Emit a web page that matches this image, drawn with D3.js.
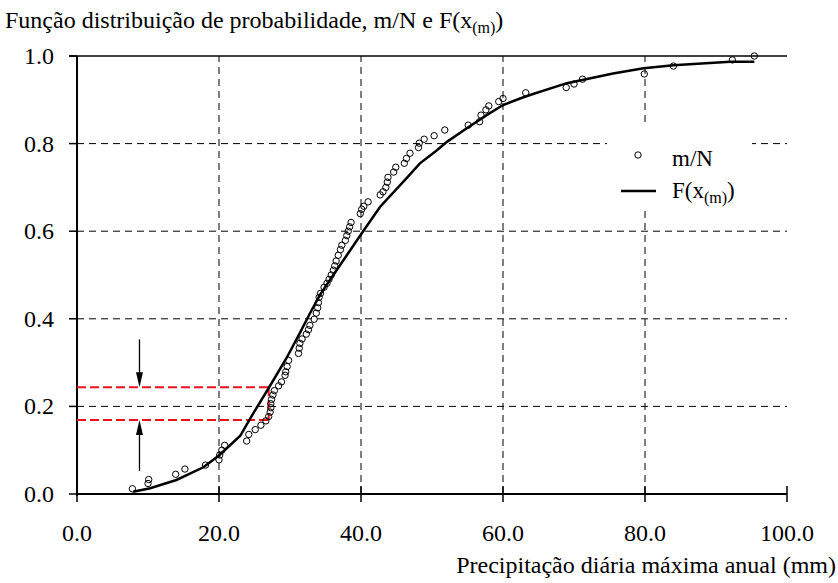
<!DOCTYPE html>
<html>
<head>
<meta charset="utf-8">
<script src="https://cdn.jsdelivr.net/npm/d3@7"></script>
</head>
<body style="margin:0">
<svg id="fig" width="838" height="583" style="font-family: 'Liberation Serif', 'Times New Roman', serif"></svg>
<script>
// observed points m/N (sorted precipitation, mm)
var obsX = [7.8, 10.0, 10.1, 13.9, 15.2, 18.1, 20.0, 20.1, 20.4, 20.8,
  23.9, 24.2, 25.1, 25.9, 26.6, 27.0, 27.2, 27.3, 27.3, 27.4,
  27.6, 27.8, 28.4, 28.8, 29.3, 29.4, 29.6, 29.8, 31.2, 31.3,
  31.4, 31.7, 32.3, 32.6, 32.8, 33.4, 33.7, 33.9, 34.0, 34.1,
  34.3, 34.8, 35.2, 35.5, 35.8, 36.1, 36.3, 36.5, 36.8, 37.1,
  37.3, 37.8, 38.0, 38.2, 38.4, 38.6, 39.9, 40.1, 40.4, 41.0,
  42.7, 43.1, 43.5, 43.7, 43.8, 44.6, 44.9, 46.1, 46.4, 46.9,
  48.1, 48.2, 48.9, 50.3, 51.8, 55.1, 56.7, 56.9, 57.6, 58.0,
  59.4, 60.0, 63.2, 68.9, 70.0, 71.2, 79.9, 84.0, 92.3, 95.4];
var obsY = [0.012, 0.024, 0.033, 0.045, 0.057, 0.066, 0.078, 0.089, 0.100, 0.111,
  0.121, 0.136, 0.147, 0.157, 0.167, 0.177, 0.187, 0.197, 0.206, 0.216,
  0.226, 0.236, 0.247, 0.256, 0.271, 0.279, 0.291, 0.305, 0.321, 0.333,
  0.344, 0.354, 0.365, 0.375, 0.385, 0.399, 0.413, 0.425, 0.437, 0.449,
  0.458, 0.472, 0.481, 0.490, 0.500, 0.511, 0.521, 0.532, 0.545, 0.558,
  0.568, 0.579, 0.590, 0.600, 0.610, 0.620, 0.640, 0.650, 0.657, 0.667,
  0.683, 0.690, 0.700, 0.712, 0.723, 0.735, 0.746, 0.755, 0.766, 0.778,
  0.791, 0.801, 0.810, 0.818, 0.831, 0.842, 0.850, 0.865, 0.877, 0.886,
  0.896, 0.903, 0.916, 0.928, 0.936, 0.947, 0.959, 0.977, 0.991, 1.000];

// fitted distribution F(x(m))
var fitX = [7.9, 10.3, 14.0, 17.8, 20.0, 23.0, 24.3, 27.0, 29.5,
  31.4, 32.8, 34.2, 36.1, 38.0, 40.3, 42.7, 46.2, 48.3, 50.7,
  52.1, 54.9, 57.7, 60.0, 62.4, 63.8, 69.0, 75.5, 79.8, 84.0, 92.0, 95.4];
var fitY = [0.005, 0.013, 0.032, 0.061, 0.088, 0.133, 0.170, 0.242, 0.310,
  0.368, 0.412, 0.454, 0.500, 0.545, 0.600, 0.656, 0.717, 0.755, 0.785,
  0.804, 0.835, 0.865, 0.888, 0.903, 0.911, 0.938, 0.960, 0.972, 0.979, 0.987, 0.987];

// red guides
var guideX = 27.0;
var guideHigh = 0.244;
var guideLow = 0.169;
var arrowX = 8.8;
var arrowDown = [0.353, 0.244];
var arrowUp = [0.053, 0.169];

var xTicks = [0, 20, 40, 60, 80, 100];
var yTicks = [0, 0.2, 0.4, 0.6, 0.8, 1.0];

var svg = d3.select("#fig");
var x = d3.scaleLinear().domain([0, 100]).range([77, 787]);
var y = d3.scaleLinear().domain([0, 1]).range([494, 56]);

function serif(sel) {
  return sel.style("font-family", "'Liberation Serif', 'Times New Roman', serif", "important");
}

// grid
svg.append("g").selectAll("line")
  .data(xTicks.filter(function(d) { return d > 0 && d < 100; }))
  .enter().append("line")
    .attr("x1", function(d) { return x(d); })
    .attr("x2", function(d) { return x(d); })
    .attr("y1", y(0)).attr("y2", y(1))
    .attr("stroke", "#000").attr("stroke-width", 1)
    .attr("stroke-dasharray", "7,5");
svg.append("g").selectAll("line")
  .data(yTicks.filter(function(d) { return d > 0 && d < 1; }))
  .enter().append("line")
    .attr("x1", x(0)).attr("x2", x(100))
    .attr("y1", function(d) { return y(d); })
    .attr("y2", function(d) { return y(d); })
    .attr("stroke", "#000").attr("stroke-width", 1)
    .attr("stroke-dasharray", "7,5");

// legend background hides grid
svg.append("rect").attr("x", 607).attr("y", 125).attr("width", 145).attr("height", 85)
  .attr("fill", "#fff");

// axes
svg.append("line").attr("x1", x(0)).attr("x2", x(0)).attr("y1", y(1)).attr("y2", y(0) + 2)
  .attr("stroke", "#000").attr("stroke-width", 2);
svg.append("line").attr("x1", x(0)).attr("x2", x(100)).attr("y1", y(0)).attr("y2", y(0))
  .attr("stroke", "#000").attr("stroke-width", 2);
svg.append("line").attr("x1", x(0) - 8).attr("x2", x(100)).attr("y1", y(1)).attr("y2", y(1))
  .attr("stroke", "#000").attr("stroke-width", 1.5);

svg.append("g").selectAll("line")
  .data(yTicks)
  .enter().append("line")
    .attr("x1", x(0) - 8).attr("x2", x(0))
    .attr("y1", function(d) { return y(d); })
    .attr("y2", function(d) { return y(d); })
    .attr("stroke", "#000").attr("stroke-width", 1.5);
svg.append("g").selectAll("line")
  .data(xTicks)
  .enter().append("line")
    .attr("x1", function(d) { return x(d); })
    .attr("x2", function(d) { return x(d); })
    .attr("y1", y(0) - 8).attr("y2", y(0) + 8)
    .attr("stroke", "#000").attr("stroke-width", 1.5);

serif(svg.append("g").selectAll("text")
  .data(yTicks)
  .enter().append("text")
    .attr("x", 54)
    .attr("y", function(d) { return y(d) + 8; })
    .attr("text-anchor", "end")
    .attr("font-size", 24)
    .text(function(d) { return d3.format(".1f")(d); }));
serif(svg.append("g").selectAll("text")
  .data(xTicks)
  .enter().append("text")
    .attr("x", function(d) { return x(d); })
    .attr("y", 541)
    .attr("text-anchor", "middle")
    .attr("font-size", 24)
    .text(function(d) { return d3.format(".1f")(d); }));

// titles
var title = serif(svg.append("text").attr("x", 5).attr("y", 28).attr("font-size", 24));
title.append("tspan").text("Função distribuição de probabilidade, m/N e F(x");
title.append("tspan").attr("font-size", 16).attr("dy", 5).text("(m)");
title.append("tspan").attr("dy", -5).text(")");

serif(svg.append("text").attr("x", 836).attr("y", 573).attr("text-anchor", "end")
  .attr("font-size", 24)
  .text("Precipitação diária máxima anual (mm)"));

// red guides
var red = svg.append("g").attr("stroke", "#e8141c").attr("stroke-width", 2)
  .attr("stroke-dasharray", "9,4").attr("fill", "none");
red.append("line").attr("x1", x(0)).attr("x2", x(guideX))
  .attr("y1", y(guideHigh)).attr("y2", y(guideHigh));
red.append("line").attr("x1", x(0)).attr("x2", x(guideX))
  .attr("y1", y(guideLow)).attr("y2", y(guideLow));
red.append("line").attr("x1", x(guideX)).attr("x2", x(guideX))
  .attr("y1", y(guideHigh)).attr("y2", y(guideLow)).attr("stroke-dasharray", null);

// arrows
function arrow(from, to) {
  var ax = x(arrowX), y0 = y(from), y1 = y(to);
  var dir = y1 > y0 ? 1 : -1;
  svg.append("line").attr("x1", ax).attr("x2", ax).attr("y1", y0).attr("y2", y1 - dir * 10)
    .attr("stroke", "#000").attr("stroke-width", 1.3);
  svg.append("path")
    .attr("d", "M" + ax + "," + y1 + "L" + (ax - 3.5) + "," + (y1 - dir * 15) +
      "L" + (ax + 3.5) + "," + (y1 - dir * 15) + "Z")
    .attr("fill", "#000");
}
arrow(arrowDown[0], arrowDown[1]);
arrow(arrowUp[0], arrowUp[1]);

// fitted curve
var fit = fitX.map(function(d, i) { return [d, fitY[i]]; });
svg.append("path")
  .datum(fit)
  .attr("d", d3.line().x(function(d) { return x(d[0]); }).y(function(d) { return y(d[1]); }))
  .attr("fill", "none").attr("stroke", "#000").attr("stroke-width", 2.5);

// observed points
svg.append("g").selectAll("circle")
  .data(obsX)
  .enter().append("circle")
    .attr("cx", function(d) { return x(d); })
    .attr("cy", function(d, i) { return y(obsY[i]); })
    .attr("r", 3.2)
    .attr("fill", "none").attr("stroke", "#000").attr("stroke-width", 1);

// legend
svg.append("circle").attr("cx", 638).attr("cy", 155).attr("r", 3.2)
  .attr("fill", "none").attr("stroke", "#000").attr("stroke-width", 1);
serif(svg.append("text").attr("x", 672).attr("y", 166).attr("font-size", 23).text("m/N"));
svg.append("line").attr("x1", 621).attr("x2", 656).attr("y1", 191).attr("y2", 191)
  .attr("stroke", "#000").attr("stroke-width", 2.5);
var leg = serif(svg.append("text").attr("x", 672).attr("y", 198).attr("font-size", 23));
leg.append("tspan").text("F(x");
leg.append("tspan").attr("font-size", 16).attr("dy", 5).text("(m)");
leg.append("tspan").attr("dy", -5).text(")");
</script>
</body>
</html>
